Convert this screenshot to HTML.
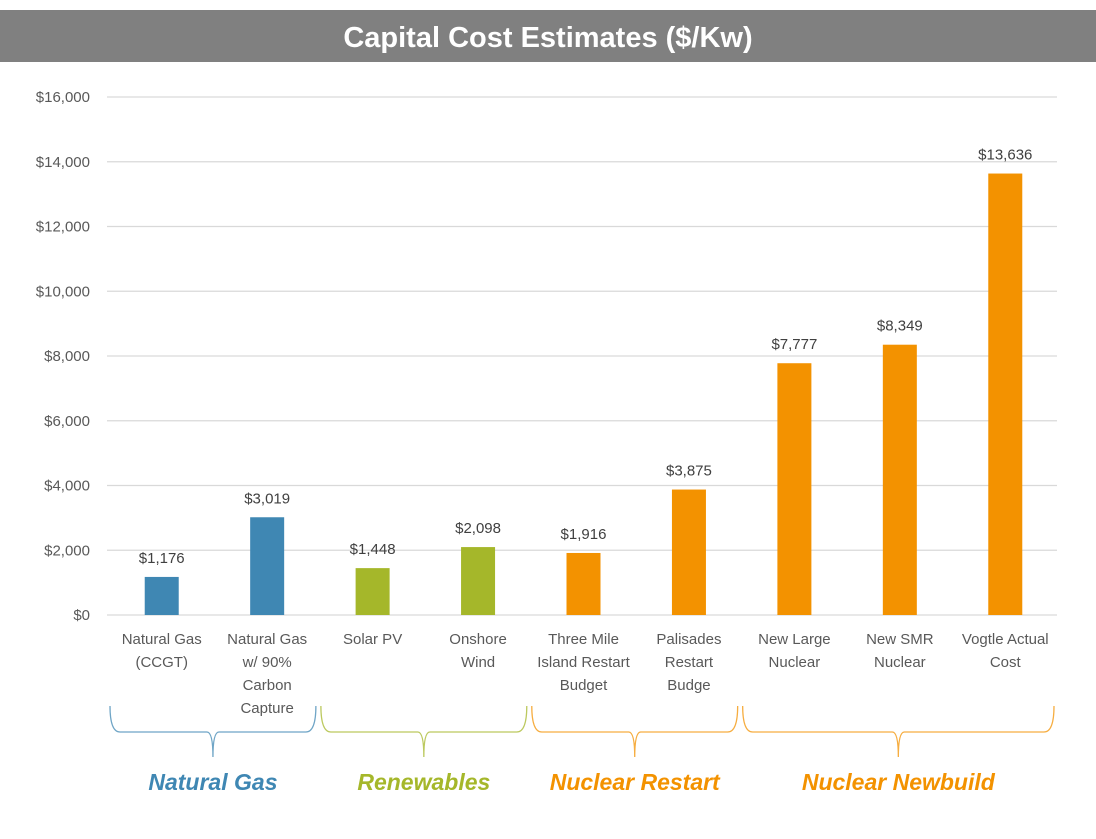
<!DOCTYPE html>
<html><head><meta charset="utf-8"><style>
body{margin:0;background:#fff;width:1096px;height:834px;overflow:hidden;font-family:"Liberation Sans",sans-serif}
</style></head><body>
<svg width="1096" height="834">
<rect x="0" y="10" width="1096" height="52" fill="#808080"/>
<text x="548" y="47" text-anchor="middle" font-size="29" font-weight="bold" fill="#fff">Capital Cost Estimates ($/Kw)</text>
<g id="grid"></g><g id="bars"></g><g id="cats"></g><g id="groups"></g>
</svg>
<script>
const categories=[["Natural Gas","(CCGT)"],["Natural Gas","w/ 90%","Carbon","Capture"],["Solar PV"],["Onshore","Wind"],["Three Mile","Island Restart","Budget"],["Palisades","Restart","Budge"],["New Large","Nuclear"],["New SMR","Nuclear"],["Vogtle Actual","Cost"]];
const values=[1176,3019,1448,2098,1916,3875,7777,8349,13636];
const colors=["#3f87b3","#3f87b3","#a5b72a","#a5b72a","#f39200","#f39200","#f39200","#f39200","#f39200"];
const ticks=[0,2000,4000,6000,8000,10000,12000,14000,16000];
const groups=[["Natural Gas",0,1,"#3f87b3"],["Renewables",2,3,"#a5b72a"],["Nuclear Restart",4,5,"#f39200"],["Nuclear Newbuild",6,8,"#f39200"]];
const NS="http://www.w3.org/2000/svg";
const x0=109,x1=1058,bw=(x1-x0)/categories.length;
const y=v=>615-v*(518/16000);
const cx=i=>x0+bw*(i+0.5);
function mk(t,a,p,txt){const e=document.createElementNS(NS,t);for(const k in a)e.setAttribute(k,a[k]);if(txt!=null)e.textContent=txt;p.appendChild(e);return e;}
const G=document.getElementById('grid'),B=document.getElementById('bars'),C=document.getElementById('cats'),GR=document.getElementById('groups');
ticks.forEach(t=>{
 const l=mk('line',{x1:107,x2:1057,y1:y(t),y2:y(t),stroke:'#d9d9d9','stroke-width':1.3},G);
 
 
 const tx=mk('text',{x:90,y:y(t)+5,'text-anchor':'end','font-size':15,fill:'#595959'},G,'$'+t.toLocaleString('en-US'));
 
 
});
values.forEach((v,i)=>{
 const r=mk('rect',{x:cx(i)-17,y:y(v),width:34,height:615-y(v),fill:colors[i]},B);
 
 
 const t=mk('text',{x:cx(i),y:y(v)-14,'text-anchor':'middle','font-size':15,fill:'#404040'},B,'$'+v.toLocaleString('en-US'));
 
 
 categories[i].forEach((s,j)=>{
  const c=mk('text',{x:cx(i),y:644+j*23,'text-anchor':'middle','font-size':15,fill:'#595959'},C,s);
  
  
 });
});
groups.forEach(g=>{
 const a=x0+bw*g[1]+1,b=x0+bw*(g[2]+1)-4,m=(a+b)/2;
 const d=`M${a},706 Q${a},732 ${a+10},732 L${m-6},732 Q${m},732 ${m},757 Q${m},732 ${m+6},732 L${b-10},732 Q${b},732 ${b},706`;
 const p=mk('path',{d:d,fill:'none',stroke:g[3],'stroke-width':1.3,opacity:0.75},GR);
 
 
 const t=mk('text',{x:m,y:790,'text-anchor':'middle','font-size':23,'font-weight':'bold','font-style':'italic',fill:g[3]},GR,g[0]);
 
 
});
</script>
</body></html>
